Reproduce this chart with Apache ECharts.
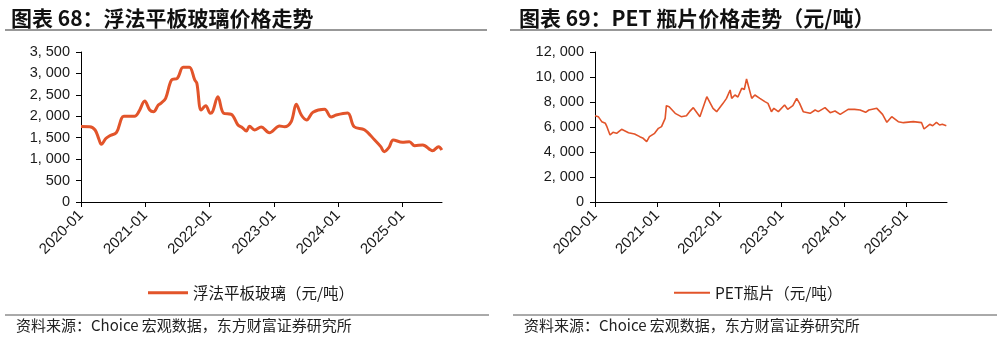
<!DOCTYPE html>
<html><head><meta charset="utf-8">
<script src="https://cdn.jsdelivr.net/npm/echarts@6/dist/echarts.min.js"></script>
<style>html,body{margin:0;padding:0;background:#fff}#c{width:997px;height:339px}</style>
</head><body><div id="c"></div>
<script>
// ---- Data ----
const xTickLabels = ['2020-01','2021-01','2022-01','2023-01','2024-01','2025-01'];
const glassName = '浮法平板玻璃（元/吨）';
const glassDates = ['2020-01-01','2020-02-20','2020-03-20','2020-04-10','2020-04-25','2020-05-20','2020-06-10','2020-07-20','2020-08-18','2020-09-01','2020-11-01','2020-11-25','2020-12-28','2021-01-26','2021-02-17','2021-03-14','2021-03-28','2021-04-25','2021-05-28','2021-07-01','2021-08-03','2021-09-08','2021-10-08','2021-10-20','2021-11-14','2021-12-10','2022-01-05','2022-01-18','2022-02-18','2022-03-20','2022-05-03','2022-06-10','2022-07-05','2022-07-27','2022-08-15','2022-09-13','2022-10-20','2022-12-06','2023-02-03','2023-03-01','2023-04-08','2023-05-07','2023-06-05','2023-07-05','2023-08-10','2023-10-15','2023-11-22','2023-12-20','2024-02-24','2024-04-01','2024-05-28','2024-07-26','2024-08-30','2024-09-19','2024-10-15','2024-11-10','2025-01-01','2025-02-10','2025-03-10','2025-04-25','2025-06-20','2025-07-24','2025-08-12'];
const glassValues = [1760,1757,1680,1480,1346,1480,1540,1626,1953,2000,2000,2107,2357,2147,2107,2263,2302,2420,2847,2886,3143,3143,2847,2769,2147,2247,2069,2107,2457,2069,2046,1797,1734,1657,1766,1680,1750,1617,1773,1757,1873,2280,2030,1913,2093,2163,1983,2030,2077,1757,1687,1447,1291,1174,1268,1447,1393,1407,1314,1330,1197,1291,1213];

const petName = 'PET瓶片（元/吨）';
const petDates = ['2020-01-01','2020-01-20','2020-02-10','2020-03-01','2020-03-10','2020-03-28','2020-04-15','2020-05-06','2020-06-05','2020-07-15','2020-08-20','2020-09-20','2020-10-10','2020-10-30','2020-11-16','2020-12-16','2021-01-08','2021-01-26','2021-02-17','2021-02-24','2021-03-10','2021-04-15','2021-05-20','2021-06-20','2021-07-08','2021-07-30','2021-09-08','2021-10-18','2021-11-24','2021-12-15','2022-01-22','2022-02-12','2022-03-03','2022-03-12','2022-04-01','2022-04-18','2022-05-10','2022-05-25','2022-06-08','2022-07-08','2022-07-26','2022-08-25','2022-09-24','2022-10-12','2022-11-02','2022-11-16','2022-12-12','2023-01-18','2023-02-06','2023-03-06','2023-03-28','2023-04-15','2023-05-06','2023-06-16','2023-07-15','2023-08-03','2023-09-12','2023-10-12','2023-11-10','2023-12-10','2024-01-26','2024-03-03','2024-04-05','2024-05-07','2024-05-26','2024-07-12','2024-08-15','2024-09-10','2024-10-08','2024-11-16','2024-12-16','2025-02-13','2025-04-01','2025-04-15','2025-05-18','2025-06-05','2025-06-27','2025-07-15','2025-08-01','2025-08-24'];
const petValues = [6907,6827,6427,6293,6027,5360,5573,5493,5813,5547,5440,5227,5093,4827,5227,5493,5893,6027,6693,7707,7627,7093,6827,6907,7227,7547,6827,8427,7493,7227,7893,8293,8960,8293,8560,8400,9093,9000,9840,8293,8560,8293,8027,7893,7227,7493,7227,7760,7413,7707,8293,7893,7227,7093,7360,7227,7547,7147,7280,7013,7413,7413,7360,7173,7360,7493,7013,6373,6827,6427,6347,6427,6347,5840,6213,6100,6373,6160,6213,6107];

// ---- Helpers ----
function toMonths(s){const p=s.split('-').map(Number);return (p[0]-2020)*12+(p[1]-1)+(p[2]-1)/30;}
const glassData = glassDates.map((d,i)=>[toMonths(d),glassValues[i]]);
const petData = petDates.map((d,i)=>[toMonths(d),petValues[i]]);
const fmtNum = v => { const s=String(v); return s.length>3 ? s.slice(0,-3)+', '+s.slice(-3) : s; };
const xFmt = v => { const k=Math.round(v); if (Math.abs(v-k)>1e-6 || k%12!==0) return ''; return xTickLabels[k/12] || ''; };

const RED = '#E2542A';
const TXT = '#1a1a1a';
const FONT = 'Liberation Sans, Arial, sans-serif';
const CJK = 'Noto Sans CJK SC, sans-serif';

function xAxis(gi, max){
  return {type:'value', gridIndex:gi, min:0, max:max, interval:12,
    axisLine:{show:true, lineStyle:{color:'#000', width:1}},
    axisTick:{show:true, length:5, lineStyle:{color:'#000'}},
    splitLine:{show:false},
    axisLabel:{rotate:45, margin:11, fontSize:15, color:TXT, fontFamily:FONT, formatter:xFmt, showMaxLabel:false}};
}
function yAxis(gi, max, interval){
  return {type:'value', gridIndex:gi, min:0, max:max, interval:interval,
    axisLine:{show:true, lineStyle:{color:'#000', width:1}},
    axisTick:{show:true, length:5, lineStyle:{color:'#000'}},
    splitLine:{show:false},
    axisLabel:{margin:11, fontSize:14.5, color:TXT, fontFamily:FONT, formatter:fmtNum}};
}

const chart = echarts.init(document.getElementById('c'), null, {renderer:'canvas'});
chart.setOption({
  animation:false,
  backgroundColor:'#fff',
  title:[
    {text:'图表 68：浮法平板玻璃价格走势', left:6, top:3, textStyle:{fontSize:21, fontWeight:'bold', color:'#111', fontFamily:CJK}},
    {text:'图表 69：PET 瓶片价格走势（元/吨）', left:514, top:3, textStyle:{fontSize:21, fontWeight:'bold', color:'#111', fontFamily:CJK}}
  ],
  grid:[
    {left:81, right:555, top:52, bottom:137},
    {left:595, right:50, top:52, bottom:137}
  ],
  xAxis:[xAxis(0, 67.4), xAxis(1, 67.9)],
  yAxis:[yAxis(0, 3500, 500), yAxis(1, 12000, 2000)],
  legend:[
    {data:[glassName], left:143, top:280, icon:'rect', itemWidth:40, itemHeight:3, itemGap:5,
      textStyle:{fontSize:15.5, color:TXT, fontFamily:CJK}},
    {data:[petName], left:669, top:280, icon:'rect', itemWidth:36, itemHeight:2, itemGap:5,
      textStyle:{fontSize:15.5, color:TXT, fontFamily:CJK}}
  ],
  series:[
    {name:glassName, type:'line', xAxisIndex:0, yAxisIndex:0, data:glassData, smooth:0.35,
      showSymbol:false, symbol:'none', lineStyle:{color:RED, width:3}, itemStyle:{color:RED}},
    {name:petName, type:'line', xAxisIndex:1, yAxisIndex:1, data:petData, smooth:false,
      showSymbol:false, symbol:'none', lineStyle:{color:RED, width:1.6}, itemStyle:{color:RED}}
  ],
  graphic:[
    {type:'line', shape:{x1:5, y1:30, x2:487, y2:30}, style:{stroke:'#333', lineWidth:1.2}},
    {type:'line', shape:{x1:510, y1:30, x2:992, y2:30}, style:{stroke:'#333', lineWidth:1.2}},
    {type:'line', shape:{x1:5, y1:315, x2:489, y2:315}, style:{stroke:'#555', lineWidth:1}},
    {type:'line', shape:{x1:513, y1:315, x2:997, y2:315}, style:{stroke:'#555', lineWidth:1}},
    {type:'text', left:16, top:318, style:{text:'资料来源：Choice 宏观数据，东方财富证券研究所', fontSize:15, fill:'#222', fontFamily:CJK}},
    {type:'text', left:524, top:318, style:{text:'资料来源：Choice 宏观数据，东方财富证券研究所', fontSize:15, fill:'#222', fontFamily:CJK}}
  ]
});
</script></body></html>
